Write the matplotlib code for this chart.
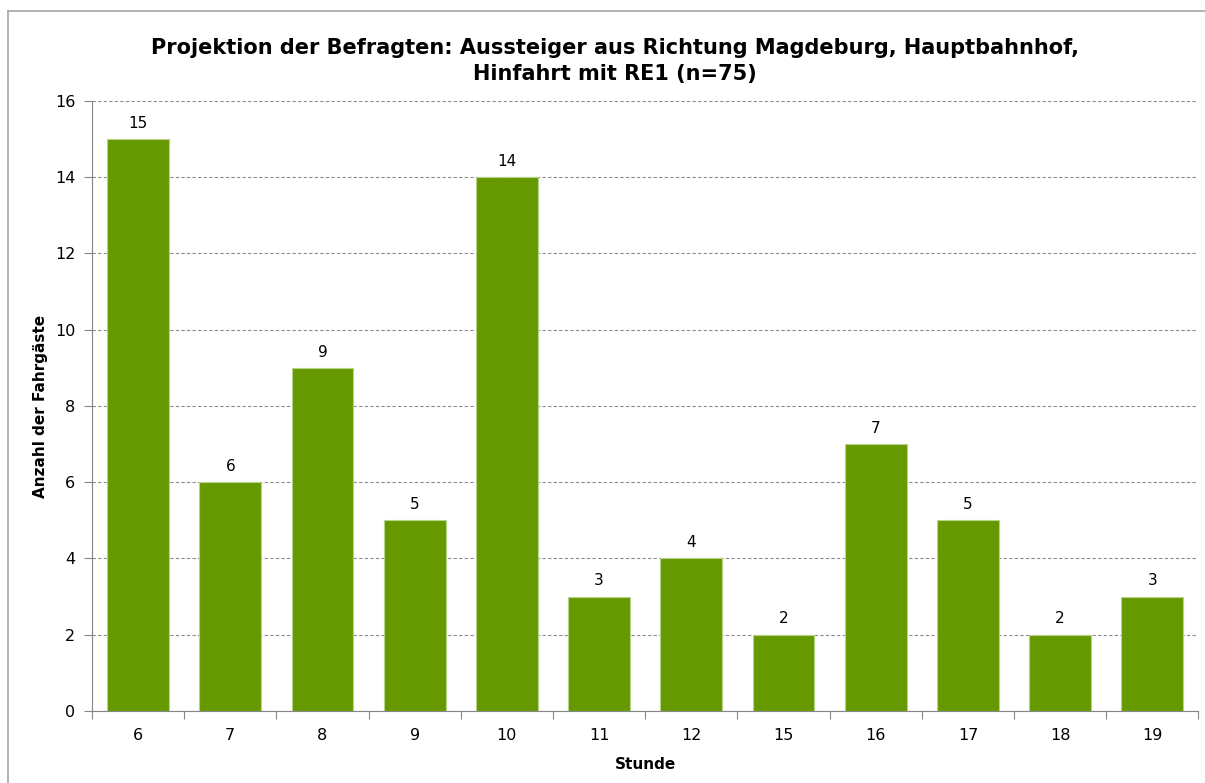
import matplotlib
matplotlib.use("Agg")
import matplotlib.pyplot as plt
from matplotlib.lines import Line2D

stunden = ["6", "7", "8", "9", "10", "11", "12", "15", "16", "17", "18", "19"]
anzahl = [15, 6, 9, 5, 14, 3, 4, 2, 7, 5, 2, 3]

title = "Projektion der Befragten: Aussteiger aus Richtung Magdeburg, Hauptbahnhof,\nHinfahrt mit RE1 (n=75)"

plt.rcParams['font.family'] = ['DejaVu Sans']

fig = plt.figure(figsize=(12.05, 7.83), dpi=100)
ax = fig.add_axes([0.0763, 0.0920, 0.9183, 0.7790])

x = range(len(stunden))
bars = ax.bar(x, anzahl, width=0.67, color='#669900', edgecolor='#b7d38a', linewidth=0.8, zorder=3)
for b, v in zip(bars, anzahl):
    ax.annotate(str(v), (b.get_x() + b.get_width() / 2, v), xytext=(0, 6),
                textcoords='offset points', ha='center', va='bottom', fontsize=11)

ax.set_xlim(-0.5, len(stunden) - 0.5)
ax.set_ylim(0, 16)
ax.set_yticks(range(0, 17, 2))
ax.set_xticks([i - 0.5 for i in range(len(stunden) + 1)], minor=False)
ax.set_xticklabels([])
ax.set_xticks(list(x), minor=True)
ax.set_xticklabels(stunden, minor=True)
ax.tick_params(axis='x', which='major', length=6, color='#868686', direction='out')
ax.tick_params(axis='x', which='minor', length=0, labelsize=11.5, pad=12)
ax.tick_params(axis='y', length=6, color='#868686', labelsize=11.5, pad=6)

ax.yaxis.grid(True, linestyle=(0, (3, 2)), color='#8c8c8c', linewidth=0.8, zorder=0)
for s in ['top', 'right']:
    ax.spines[s].set_visible(False)
ax.spines['left'].set_color('#868686')
ax.spines['bottom'].set_color('#868686')

ax.set_xlabel("Stunde", fontsize=11, fontweight='bold', labelpad=10)
ax.set_ylabel("Anzahl der Fahrgäste", fontsize=11, fontweight='bold', labelpad=5)
fig.text(0.51, 0.951, title, ha='center', va='top', fontsize=15, fontweight='bold',
         linespacing=1.35)

# outer chart frame (left and top edges)
fig.add_artist(Line2D([8 / 1205, 8 / 1205], [0, 1 - 11 / 783], transform=fig.transFigure,
                      color='#a6a6a6', linewidth=1.2))
fig.add_artist(Line2D([8 / 1205, 1], [1 - 11 / 783, 1 - 11 / 783], transform=fig.transFigure,
                      color='#a6a6a6', linewidth=1.2))

fig.savefig("out.png", dpi=100)
